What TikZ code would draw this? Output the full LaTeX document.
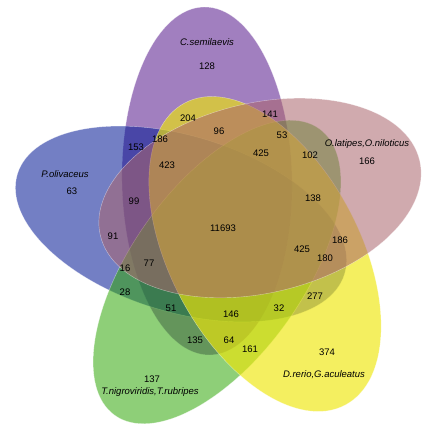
\documentclass[tikz,border=0pt]{standalone}
\usepackage{fontspec}
\setmainfont{Liberation Sans}
\usepackage{tikz, xcolor}
\usetikzlibrary{calc,positioning}
\definecolor{olivaceusblue}{RGB}{0,22,148}
\definecolor{semilaevispurple}{RGB}{84,22,138}
\definecolor{latipespink}{RGB}{170,100,108}
\definecolor{rerioyellow}{RGB}{238,230,10}
\definecolor{nigroviridisgreen}{RGB}{50,168,10}

\begin{document}
\begin{tikzpicture}[x=1pt,y=1pt]
\tikzset{SET/.style={fill opacity=0.55,draw=white,draw opacity=0.5,line width=0.4pt}}
\tikzset{COUNT/.style={inner sep=0pt,font=\fontsize{9.5}{11}\selectfont}}
\tikzset{SPECIES/.style={COUNT,font=\fontsize{9.5}{11}\selectfont\itshape}}

\useasboundingbox (0,0) rectangle (438,430);

% the five sets
\path[SET,fill=semilaevispurple,rotate around={91:(207,249)}] (207,249) ellipse [x radius=174,y radius=85];
\path[SET,fill=olivaceusblue,rotate around={-17:(181,206)}] (181,206) ellipse [x radius=171,y radius=88];
\path[SET,fill=nigroviridisgreen,rotate around={54.5:(217,158)}] (217,158) ellipse [x radius=176,y radius=86];
\path[SET,fill=rerioyellow,fill opacity=0.65,rotate around={-62:(265,176)}] (265,176) ellipse [x radius=171,y radius=95];
\path[SET,fill=latipespink,rotate around={13.2:(260,232)}] (260,232) ellipse [x radius=164,y radius=95];

% species names
\node[SPECIES] (semilaevis) at (207,388) {C.semilaevis};
\node[SPECIES] (olivaceus) at (65,256) {P.olivaceus};
\node[SPECIES] (latipes) at (367,286) {O.latipes,O.niloticus};
\node[SPECIES] (rerio) at (324,55) {D.rerio,G.aculeatus};
\node[SPECIES] (nigroviridis) at (150,38) {T.nigroviridis,T.rubripes};

% region counts
\node[COUNT] (n128) at (207,364) {128};
\node[COUNT] (n63) at (72,239) {63};
\node[COUNT] (n166) at (367,269) {166};
\node[COUNT] (n374) at (327,78) {374};
\node[COUNT] (n137) at (152,51) {137};
\node[COUNT] (n153) at (136,283) {153};
\node[COUNT] (n186a) at (160,291) {186};
\node[COUNT] (n204) at (188,312) {204};
\node[COUNT] (n423) at (167,265) {423};
\node[COUNT] (n99) at (134,229) {99};
\node[COUNT] (n96) at (219,299) {96};
\node[COUNT] (n141) at (270,316) {141};
\node[COUNT] (n53) at (282,295) {53};
\node[COUNT] (n425a) at (261,277) {425};
\node[COUNT] (n102) at (310,275) {102};
\node[COUNT] (n138) at (313,232) {138};
\node[COUNT] (n11693) at (223,202) {11693};
\node[COUNT] (n91) at (113,194) {91};
\node[COUNT] (n77) at (149,167) {77};
\node[COUNT] (n16) at (125,162) {16};
\node[COUNT] (n28) at (125,138) {28};
\node[COUNT] (n51) at (171,122) {51};
\node[COUNT] (n135) at (195,90) {135};
\node[COUNT] (n186b) at (340,190) {186};
\node[COUNT] (n425b) at (302,181) {425};
\node[COUNT] (n180) at (325,172) {180};
\node[COUNT] (n277) at (315,134) {277};
\node[COUNT] (n32) at (279,122) {32};
\node[COUNT] (n146) at (231,116) {146};
\node[COUNT] (n64) at (229,90) {64};
\node[COUNT] (n161) at (250,81) {161};

\end{tikzpicture}
\end{document}
